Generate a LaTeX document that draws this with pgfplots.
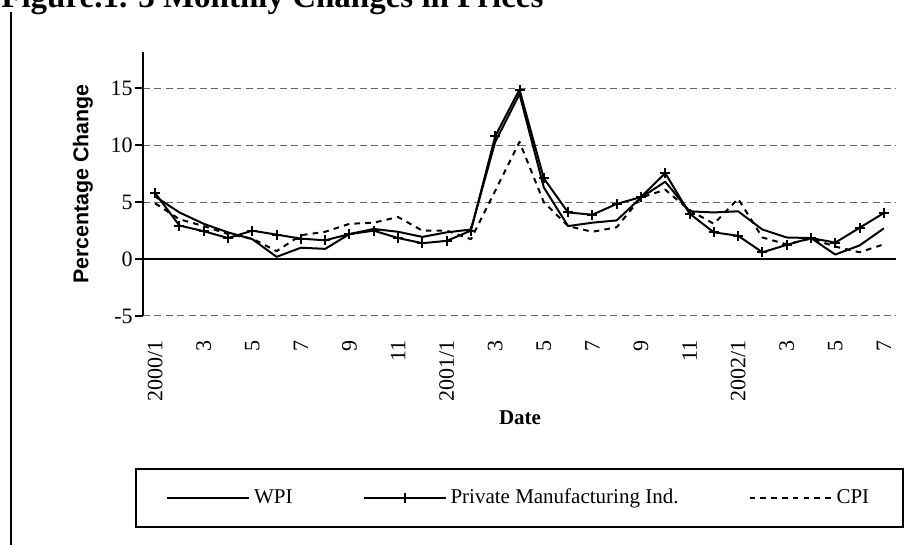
\documentclass[border=0pt]{standalone}
\usepackage{fontspec}
\setmainfont{Liberation Serif}
\newfontfamily\arialfont{Liberation Sans}
\usepackage{pgfplots}
\usepackage{pgfplotstable}
\pgfplotsset{compat=1.18}
\pgfplotstableread{
i wpi pmi cpi
0 5.5 5.8 4.9
1 4.1 2.95 3.5
2 3.1 2.45 2.9
3 2.35 1.85 2.2
4 1.75 2.5 1.8
5 0.2 2.15 0.7
6 1.0 1.8 2.1
7 0.9 1.65 2.4
8 2.2 2.2 3.1
9 2.65 2.5 3.2
10 2.4 1.85 3.7
11 1.95 1.4 2.5
12 2.35 1.6 2.5
13 2.6 2.5 1.75
14 10.3 10.8 6.0
15 14.5 14.9 10.3
16 6.3 7.1 5.0
17 2.9 4.1 2.9
18 3.2 3.9 2.4
19 3.4 4.85 2.8
20 5.4 5.45 5.4
21 6.8 7.55 6.1
22 4.2 4.0 4.3
23 4.1 2.35 3.1
24 4.2 2.05 5.3
25 2.6 0.6 1.9
26 1.9 1.25 1.3
27 1.85 1.85 1.8
28 0.4 1.45 1.1
29 1.2 2.75 0.6
30 2.7 4.05 1.3
}\data
\begin{document}
\begin{tikzpicture}
\useasboundingbox (0,0) rectangle (457pt,272.5pt);
\clip (0,0) rectangle (457pt,272.5pt);
\begin{scope}[shift={(0pt,272.5pt)},x=0.5pt,y=-0.5pt]
\draw[line width=1pt] (11,12) -- (11,560);
\node[anchor=base west, inner sep=0pt, font=\fontsize{16.5}{18}\selectfont\bfseries] at (1,8) {Figure.1. 3 Monthly Changes in Prices};
\node[rotate=90, inner sep=0pt, font=\arialfont\bfseries\fontsize{10.7}{12}\selectfont] at (83,184) {Percentage Change};
\node[inner sep=0pt, font=\bfseries\fontsize{10.5}{12}\selectfont] at (520,418) {Date};
\end{scope}
\begin{axis}[
  at={(71.5pt,114.5pt)}, anchor=south west,
  scale only axis, width=376.5pt, height=132pt,
  xmin=-0.5, xmax=30.5, ymin=-5, ymax=18.2,
  axis x line*=bottom, axis y line*=left,
  axis line style={-},
  x axis line style={draw=none},
  y axis line style={line width=1pt},
  ytick={-5,0,5,10,15}, yticklabels={-5,0,5,10,15},
  xtick={0,2,...,30},
  xticklabels={2000/1,3,5,7,9,11,2001/1,3,5,7,9,11,2002/1,3,5,7},
  xtick style={draw=none},
  ytick style={line width=1pt, black},
  tick align=outside, major tick length=4pt,
  ymajorgrids,
  grid style={dash pattern=on 3.5pt off 2.2pt, black!60, line width=0.5pt},
  tick label style={font=\fontsize{11}{12}\selectfont},
  xticklabel style={rotate=90, anchor=east, inner sep=0pt},
  xticklabel shift=8pt,
  yticklabel style={inner sep=0pt},
  yticklabel shift=1pt,
  legend columns=3,
  legend image code/.code={\draw[mark repeat=2,mark phase=2,#1] plot coordinates {(0pt,0pt)(20.5pt,0pt)(41pt,0pt)};},
  legend style={at={(-0.0106,-0.5758)}, anchor=north west, draw=black, line width=1pt,
    inner xsep=15pt, inner ysep=8pt, font=\fontsize{10.5}{12}\selectfont,
    /tikz/every even column/.append style={column sep=33pt},
    /tikz/every odd column/.append style={column sep=0pt}},
  legend cell align=left,
]
\draw[line width=1pt] (axis cs:-0.5,0) -- (axis cs:30.5,0);
\addplot[black, line width=1pt, line join=round] table[x=i,y=wpi] {\data};
\addlegendentry{WPI}
\addplot[black, line width=1pt, line join=round, mark=+, mark size=2.5pt, mark options={solid, line width=1pt}] table[x=i,y=pmi] {\data};
\addlegendentry{Private Manufacturing Ind.}
\addplot[black, line width=1pt, line join=round, dash pattern=on 2.8pt off 2.6pt] table[x=i,y=cpi] {\data};
\addlegendentry{CPI}
\end{axis}
\end{tikzpicture}
\end{document}
